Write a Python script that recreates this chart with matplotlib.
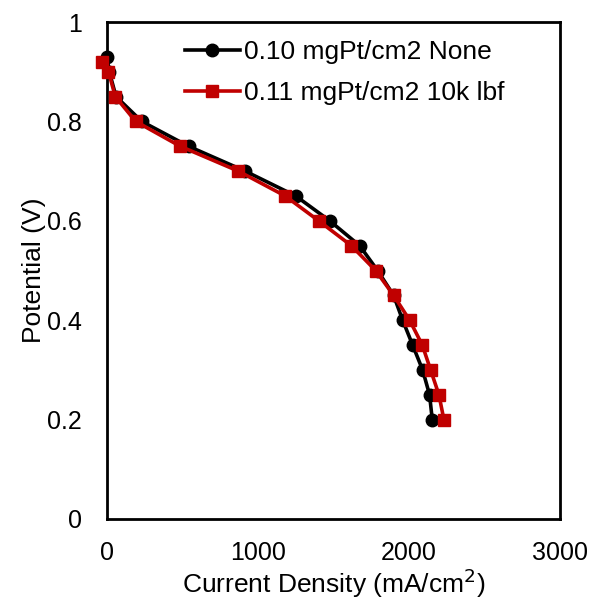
import matplotlib
matplotlib.use("Agg")
import matplotlib.pyplot as plt

plt.rcParams['font.family'] = ['Liberation Sans', 'DejaVu Sans']

# Data
v_none = [0.93, 0.90, 0.85, 0.80, 0.75, 0.70, 0.65, 0.60, 0.55, 0.50, 0.45, 0.40, 0.35, 0.30, 0.25, 0.20]
i_none = [0, 15, 60, 230, 540, 915, 1250, 1475, 1673, 1792, 1898, 1958, 2024, 2090, 2136, 2154]
v_10k = [0.92, 0.90, 0.85, 0.80, 0.75, 0.70, 0.65, 0.60, 0.55, 0.50, 0.45, 0.40, 0.35, 0.30, 0.25, 0.20]
i_10k = [-30, 10, 55, 190, 485, 870, 1180, 1402, 1618, 1779, 1898, 2004, 2088, 2143, 2198, 2231]
label_none = "0.10 mgPt/cm2 None"
label_10k = "0.11 mgPt/cm2 10k lbf"
xticks = [0, 1000, 2000, 3000]
yticks = [0, 0.2, 0.4, 0.6, 0.8, 1]
ytick_labels = ["0", "0.2", "0.4", "0.6", "0.8", "1"]

fig = plt.figure(figsize=(5.93, 6.0), dpi=100)
ax = fig.add_axes([0.1804, 0.135, 0.764, 0.8283])

ax.plot(i_none, v_none, color='black', lw=2.6, marker='o', ms=9, label=label_none, zorder=3, clip_on=False)
ax.plot(i_10k, v_10k, color='#C00000', lw=2.6, marker='s', ms=9, label=label_10k, zorder=4, clip_on=False)

ax.set_xlim(0, 3000)
ax.set_ylim(0, 1)
ax.set_xticks(xticks)
ax.set_yticks(yticks)
ax.set_yticklabels(ytick_labels)
ax.tick_params(axis='both', length=0, labelsize=18)
ax.tick_params(axis='y', pad=18)
ax.tick_params(axis='x', pad=16)
for s in ax.spines.values():
    s.set_linewidth(2)
    s.set_color('black')

ax.set_xlabel("Current Density (mA/cm$^2$)", fontsize=19, labelpad=1)
ax.set_ylabel("Potential (V)", fontsize=19, labelpad=1)

leg = ax.legend(loc='upper left', bbox_to_anchor=(0.172, 0.963), frameon=False, fontsize=19,
                handlelength=2.08, handletextpad=0.15, labelspacing=0.62, borderaxespad=0, borderpad=0)

fig.savefig("out.png", dpi=100)
